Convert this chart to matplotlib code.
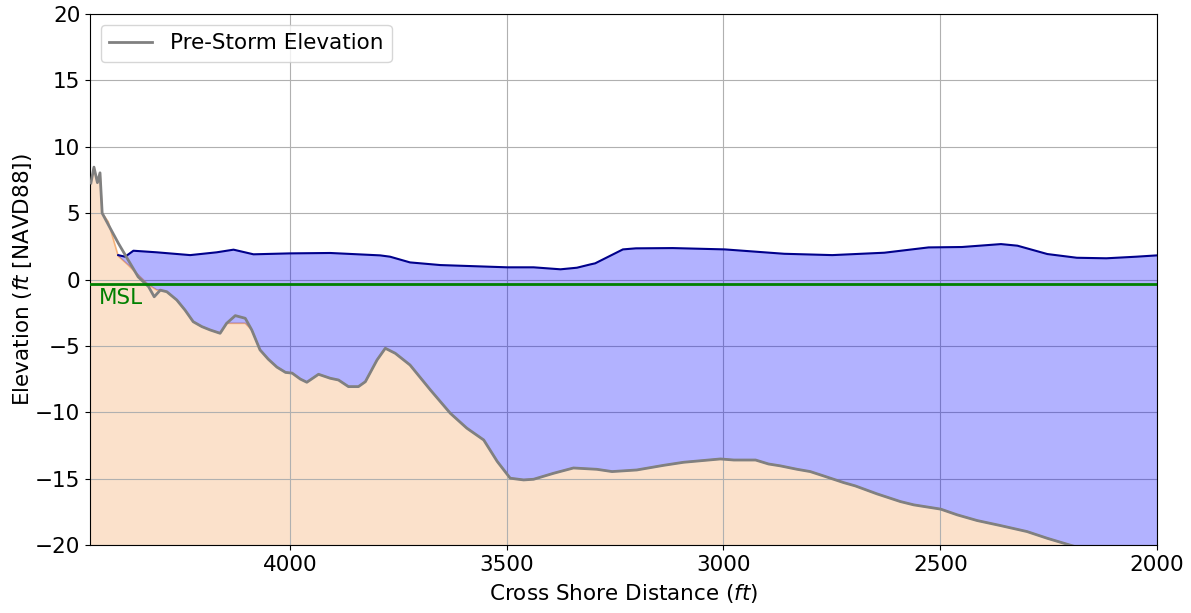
import numpy as np
import matplotlib
matplotlib.use("Agg")
import matplotlib.pyplot as plt

# Pre-storm profile (gray line)
pre_x = [4459, 4452, 4444, 4438, 4433, 4415, 4396, 4373, 4350, 4326, 4313, 4299, 4284,
         4261, 4242, 4223, 4203, 4184, 4161, 4146, 4126, 4103, 4088, 4069, 4050, 4030,
         4010, 3995, 3976, 3961, 3934, 3907, 3888, 3865, 3842, 3826, 3799, 3780, 3757,
         3723, 3676, 3630, 3592, 3553, 3522, 3492, 3461, 3438, 3392, 3346, 3292, 3257,
         3200, 3138, 3092, 3007, 2976, 2926, 2896, 2869, 2830, 2800, 2769, 2723, 2696,
         2646, 2592, 2561, 2499, 2461, 2415, 2361, 2300, 2253, 2207, 2150, 2000]
pre_y = [7.27, 8.47, 7.3, 8.04, 5.0, 3.9, 2.75, 1.47, 0.2, -0.54, -1.3, -0.8, -0.92,
         -1.54, -2.3, -3.18, -3.55, -3.8, -4.05, -3.3, -2.72, -2.92, -3.8, -5.3, -6.0, -6.6,
         -7.0, -7.05, -7.5, -7.74, -7.14, -7.44, -7.57, -8.07, -8.07, -7.7, -6.06, -5.18, -5.56,
         -6.44, -8.32, -10.08, -11.2, -12.09, -13.7, -14.97, -15.1, -15.05, -14.6, -14.2, -14.3, -14.47,
         -14.35, -14.0, -13.77, -13.52, -13.6, -13.6, -13.9, -14.04, -14.3, -14.47, -14.8, -15.3, -15.55,
         -16.15, -16.73, -16.98, -17.3, -17.73, -18.16, -18.54, -18.99, -19.5, -19.95, -20.5, -21.8]

# Bed profile under the water (peach fill, orange edge)
bed_x = [4459, 4452, 4444, 4438, 4433, 4419, 4396, 4373, 4350, 4326, 4307, 4299, 4284,
         4261, 4242, 4223, 4203, 4184, 4161, 4146, 4126, 4103, 4088, 4069, 4050, 4030,
         4010, 3995, 3976, 3961, 3934, 3907, 3888, 3865, 3842, 3826, 3799, 3780, 3757,
         3723, 3676, 3630, 3592, 3553, 3522, 3492, 3461, 3438, 3392, 3346, 3292, 3257,
         3200, 3138, 3092, 3007, 2976, 2926, 2896, 2869, 2830, 2800, 2769, 2723, 2696,
         2646, 2592, 2561, 2499, 2461, 2415, 2361, 2300, 2253, 2207, 2150, 2000]
bed_y = [7.27, 8.47, 7.3, 8.04, 5.0, 4.35, 1.77, 1.09, 0.34, -0.41, -0.79, -0.8, -0.92,
         -1.54, -2.3, -3.18, -3.55, -3.8, -4.05, -3.3, -3.3, -3.3, -3.8, -5.3, -6.0, -6.6,
         -7.0, -7.05, -7.5, -7.74, -7.14, -7.44, -7.57, -8.07, -8.07, -7.7, -6.06, -5.18, -5.56,
         -6.44, -8.32, -10.08, -11.2, -12.09, -13.7, -14.97, -15.1, -15.05, -14.6, -14.2, -14.3, -14.47,
         -14.35, -14.0, -13.77, -13.52, -13.6, -13.6, -13.9, -14.04, -14.3, -14.47, -14.8, -15.3, -15.55,
         -16.15, -16.73, -16.98, -17.3, -17.73, -18.16, -18.54, -18.99, -19.5, -19.95, -20.5, -21.8]

# Water surface elevation
wl_x = [4396, 4380, 4361, 4307, 4230, 4169, 4130, 4084, 4000, 3907, 3792, 3769, 3723,
        3653, 3499, 3438, 3376, 3338, 3307, 3296, 3232, 3202, 3117, 2997, 2860, 2749,
        2629, 2527, 2450, 2360, 2322, 2253, 2185, 2117, 2048, 2000]
wl_y = [1.84, 1.72, 2.17, 2.05, 1.84, 2.05, 2.25, 1.9, 1.97, 2.0, 1.82, 1.72, 1.29,
        1.09, 0.92, 0.92, 0.77, 0.89, 1.14, 1.22, 2.27, 2.35, 2.37, 2.27, 1.94, 1.84,
        2.02, 2.42, 2.45, 2.67, 2.55, 1.92, 1.64, 1.6, 1.72, 1.82]

msl = -0.36
x_ticks = [4000, 3500, 3000, 2500, 2000]
y_ticks = [-20, -15, -10, -5, 0, 5, 10, 15, 20]

FS = 15.5

fig = plt.figure(figsize=(11.91, 6.13), dpi=100)
ax = fig.add_axes([0.0756, 0.111, 0.8959, 0.866])

bx = np.array(bed_x)
by = np.array(bed_y)
ax.fill_between(bx, by, -40, color="sandybrown", alpha=0.32, linewidth=0, zorder=1)
ax.plot(bx, by, color="sandybrown", lw=1.2, alpha=0.8, zorder=2)

# water polygon: surface then bed (reversed) within the wetted range
wx = np.array(wl_x)
wy = np.array(wl_y)
mask = bx <= wx.max()
poly_x = np.concatenate([wx, bx[mask][::-1]])
poly_y = np.concatenate([wy, by[mask][::-1]])
ax.fill(poly_x, poly_y, color="blue", alpha=0.3, linewidth=0, zorder=2)
ax.plot(wx, wy, color="darkblue", lw=1.5, zorder=3)

ax.plot(pre_x, pre_y, color="gray", lw=2, zorder=4, label="Pre-Storm Elevation")
ax.axhline(msl, color="green", lw=2, zorder=5)
ax.text(4440, -1.85, "MSL", color="green", fontsize=FS, ha="left", va="baseline", zorder=6)

ax.set_xlim(4461, 2000)
ax.set_ylim(-20, 20)
ax.set_xticks(x_ticks)
ax.set_yticks(y_ticks)
ax.tick_params(labelsize=FS)
ax.grid(True, color="#b0b0b0", lw=0.8)
ax.set_xlabel(r"Cross Shore Distance ($ft$)", fontsize=FS, labelpad=5)
ax.set_ylabel(r"Elevation ($ft$ [NAVD88])", fontsize=FS, labelpad=1)
ax.legend(loc="upper left", fontsize=FS)

fig.savefig("out.png", dpi=100)
